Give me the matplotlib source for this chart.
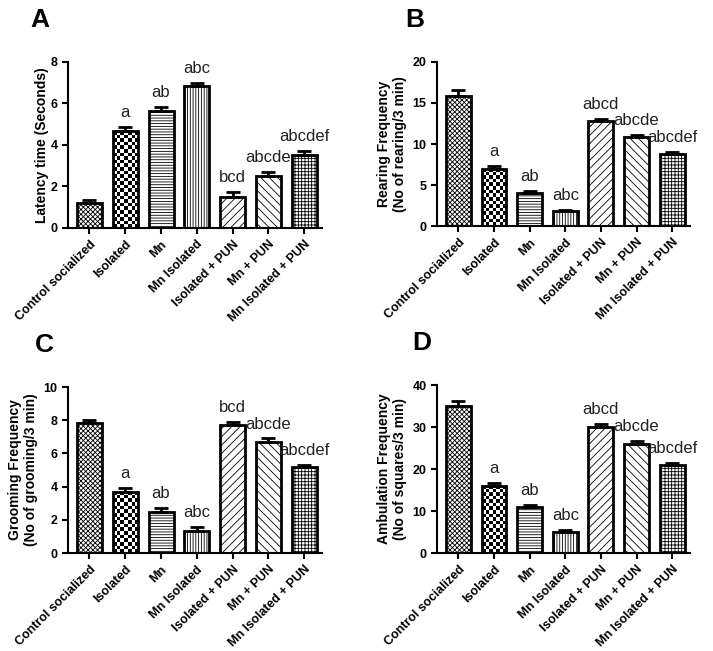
import matplotlib
matplotlib.use("Agg")
import matplotlib.pyplot as plt
import numpy as np

plt.rcParams['font.family'] = ['Liberation Sans', 'DejaVu Sans']
plt.rcParams['hatch.linewidth'] = 0.6

groups = ['Control socialized', 'Isolated', 'Mn', 'Mn Isolated',
          'Isolated + PUN', 'Mn + PUN', 'Mn Isolated + PUN']
sig = ['', 'a', 'ab', 'abc', 'bcd', 'abcde', 'abcdef']
sig_bd = ['', 'a', 'ab', 'abc', 'abcd', 'abcde', 'abcdef']

latency = [1.2, 4.65, 5.65, 6.82, 1.5, 2.5, 3.5]
latency_err = [0.15, 0.2, 0.2, 0.15, 0.22, 0.22, 0.2]
rearing = [15.8, 7.0, 4.0, 1.8, 12.8, 10.8, 8.8]
rearing_err = [0.8, 0.3, 0.3, 0.15, 0.3, 0.3, 0.2]
grooming = [7.85, 3.7, 2.5, 1.35, 7.7, 6.7, 5.2]
grooming_err = [0.15, 0.2, 0.2, 0.2, 0.2, 0.2, 0.12]
ambulation = [35, 16, 11, 5, 30, 26, 21]
ambulation_err = [1.2, 0.7, 0.5, 0.4, 0.8, 0.6, 0.5]

hatches = ['xxxxxxx', None, '------', '||||||', '////', '\\\\\\\\', '+++++']

panels = [
    ('A', latency, latency_err, 'Latency time (Seconds)', 8, 2, sig,
     [0.0954, 0.6498, 0.3562, 0.2550], (0.056, 0.969), 1),
    ('B', rearing, rearing_err, 'Rearing Frequency\n(No of rearing/3 min)', 20, 5, sig_bd,
     [0.6129, 0.6528, 0.3548, 0.2520], (0.582, 0.969), 4),
    ('C', grooming, grooming_err, 'Grooming Frequency\n(No of grooming/3 min)', 10, 2, sig,
     [0.0954, 0.1505, 0.3562, 0.2550], (0.062, 0.470), 4),
    ('D', ambulation, ambulation_err, 'Ambulation Frequency\n(No of squares/3 min)', 40, 10, sig_bd,
     [0.6129, 0.1505, 0.3548, 0.2581], (0.592, 0.473), 4),
]

W, H = 713, 651
fig = plt.figure(figsize=(W / 100, H / 100), dpi=100)
x = np.arange(len(groups))
xlo, xhi = -0.6, 6.5
bw = 0.7

for letter, vals, errs, ylab, ymax, ystep, labels, pos, lpos, lpad in panels:
    ax = fig.add_axes(pos)
    bars = ax.bar(x, vals, width=bw, color='white', edgecolor='black',
                  linewidth=2, zorder=2)
    for b, h in zip(bars, hatches):
        if h:
            b.set_hatch(h)
    # checkerboard fill for the "Isolated" bar
    cb = bars[1]
    cb.set_facecolor('none')
    bb = cb.get_bbox()
    px_w = bw * pos[2] * W / (xhi - xlo)
    px_h = (bb.y1 - bb.y0) * pos[3] * H / ymax
    n_x = 7
    n_y = max(2, int(round(px_h / (px_w / n_x))))
    board = np.indices((n_y, n_x)).sum(axis=0) % 2
    im = ax.imshow(board, cmap='gray', extent=[bb.x0, bb.x1, bb.y0, bb.y1],
                   aspect='auto', interpolation='nearest', zorder=1.5)
    im.set_clip_path(cb)
    ax.errorbar(x, vals, yerr=[np.zeros(len(vals)), errs], fmt='none',
                ecolor='black', elinewidth=2, capsize=5, capthick=2, zorder=3)
    for xi, v, e, t in zip(x, vals, errs, labels):
        if t:
            ax.annotate(t, (xi, v + e), xytext=(0, 5), textcoords='offset points',
                        ha='center', va='bottom', fontsize=12, color='#222222')
    ax.set_xlim(xlo, xhi)
    ax.set_ylim(0, ymax)
    ax.set_yticks(np.arange(0, ymax + ystep / 2, ystep))
    ax.set_xticks(x)
    ax.set_xticklabels(groups, rotation=45, ha='right', rotation_mode='anchor',
                       fontsize=9, fontweight='bold')
    for lab in ax.get_yticklabels():
        lab.set_fontweight('bold')
        lab.set_fontsize(9)
    ax.set_ylabel(ylab, fontsize=10, fontweight='bold', labelpad=lpad)
    ax.spines['top'].set_visible(False)
    ax.spines['right'].set_visible(False)
    ax.spines['left'].set_linewidth(1.5)
    ax.spines['bottom'].set_linewidth(1.5)
    ax.tick_params(direction='out', width=1.5, length=4)
    fig.text(lpos[0], lpos[1], letter, fontsize=19, fontweight='bold',
             ha='center', va='center')

fig.savefig('out.png', dpi=100)
